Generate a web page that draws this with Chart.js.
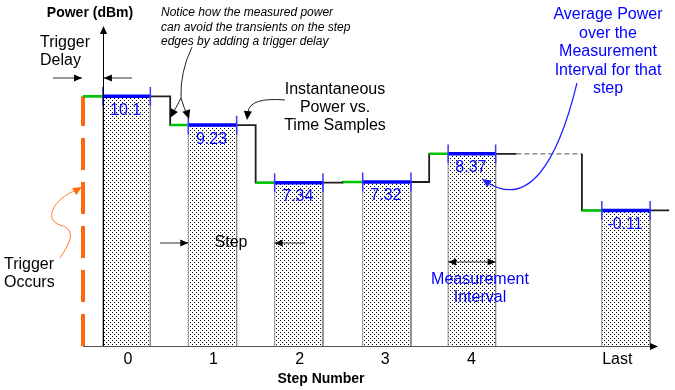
<!DOCTYPE html>
<html>
<head>
<meta charset="utf-8">
<script src="https://cdn.jsdelivr.net/npm/chart.js@4.4.0/dist/chart.umd.min.js"></script>
<style>
  body { margin: 0; background: #fff; }
  canvas { display: block; }
</style>
</head>
<body>
<canvas id="stepChart" width="675" height="390"></canvas>
<script>
// Steps and the average power measured over each interval (dBm)
const stepLabels = ['0', '1', '2', '3', '4', 'Last'];
const avgPower = ['10.1', '9.23', '7.34', '7.32', '8.37', '-0.11'];

// Time axis in arbitrary units (about 10 per step)
const stepStart = [0, 10.1, 20, 30.1, 40.1, 57.8];
const stepEnd = [10.1, 20, 30.1, 40.1, 50.2, 67.9];
const measStart = [2.3, 12.2, 22.2, 32.4, 42.3, 60.1];
const measEnd = [7.8, 17.8, 27.8, 38.0, 47.8, 65.7];
const tickPos = [5.2, 15.1, 25.1, 35.0, 45.0, 61.9];

// Drawn height of each step (schematic, axis runs 0..100)
const stepLevel = [79.0, 69.9, 51.7, 51.9, 60.8, 42.9];

const font = "'Liberation Sans', Arial, sans-serif";
const canvas = document.getElementById('stepChart');
const mainCtx = canvas.getContext('2d');

// stipple fill of the measurement bars
function dotPattern() {
    const c = document.createElement('canvas');
    c.width = 4; c.height = 4;
    const g = c.getContext('2d');
    g.fillStyle = '#fff';
    g.fillRect(0, 0, 4, 4);
    g.fillStyle = '#000';
    g.fillRect(0, 0, 1, 1);
    g.fillRect(2, 2, 1, 1);
    return mainCtx.createPattern(c, 'repeat');
}
const pattern = dotPattern();

// bars (one closed outline each, filled down to 0)
const barSets = stepLabels.map((lab, i) => ({
    label: 'bar ' + lab,
    data: [
        { x: measStart[i], y: 0 }, { x: measStart[i], y: stepLevel[i] },
        { x: measEnd[i], y: stepLevel[i] }, { x: measEnd[i], y: 0 }
    ],
    borderColor: '#8a8a8a', borderWidth: 1,
    backgroundColor: pattern, fill: 'origin', order: 6
}));

// instantaneous power trace
const tracePts = [];
const greenPts = [];
const bluePts = [];
const tickPts = [];
const tickHalf = 3;
stepLabels.forEach((lab, i) => {
    if (i > 0 && stepStart[i] > stepEnd[i - 1]) {
        tracePts.push({ x: (stepStart[i] + stepEnd[i - 1]) / 2, y: null });
        tracePts.push({ x: stepStart[i], y: stepLevel[i - 1] });
    }
    tracePts.push({ x: stepStart[i], y: stepLevel[i] });
    tracePts.push({ x: stepEnd[i], y: stepLevel[i] });

    greenPts.push({ x: stepStart[i], y: stepLevel[i] }, { x: measStart[i], y: stepLevel[i] }, { x: measStart[i], y: null });
    bluePts.push({ x: measStart[i], y: stepLevel[i] }, { x: measEnd[i], y: stepLevel[i] }, { x: measEnd[i], y: null });
    [measStart[i], measEnd[i]].forEach(x => {
        tickPts.push({ x: x, y: stepLevel[i] - tickHalf }, { x: x, y: stepLevel[i] + tickHalf }, { x: x, y: null });
    });
});

const datasets = [
    ...barSets,
    {
        label: 'trigger',
        data: [{ x: 0, y: 0 }, { x: 0, y: stepLevel[0] }],
        borderColor: '#ff6a10', borderWidth: 4, borderDash: [32, 12], order: 5
    },
    { label: 'trace', data: tracePts, borderColor: '#1e1e1e', borderWidth: 1.8, order: 4 },
    {
        label: 'hold',
        data: [{ x: stepEnd[4], y: stepLevel[4] }, { x: stepStart[5], y: stepLevel[4] }],
        borderColor: '#555', borderWidth: 1, borderDash: [5, 3], order: 4
    },
    { label: 'settling', data: greenPts, borderColor: '#00c800', borderWidth: 2.5, order: 3 },
    { label: 'interval', data: bluePts, borderColor: '#0000ff', borderWidth: 3.5, order: 2 },
    { label: 'edges', data: tickPts, borderColor: '#3a3aff', borderWidth: 1.5, order: 1 }
];

function arrowHead(ctx, x, y, angle, size) {
    ctx.save();
    ctx.translate(x, y);
    ctx.rotate(angle);
    ctx.beginPath();
    ctx.moveTo(0, 0);
    ctx.lineTo(-size, -size * 0.45);
    ctx.lineTo(-size, size * 0.45);
    ctx.closePath();
    ctx.fill();
    ctx.restore();
}

function arrowLine(ctx, x1, y1, x2, y2) {
    ctx.beginPath();
    ctx.moveTo(x1, y1);
    ctx.lineTo(x2, y2);
    ctx.stroke();
    arrowHead(ctx, x2, y2, Math.atan2(y2 - y1, x2 - x1), 8);
}

function lines(ctx, arr, x, y0, dy) {
    arr.forEach((t, i) => ctx.fillText(t, x, y0 + i * dy));
}

const annotations = {
    id: 'annotations',
    afterDraw(chart) {
        const ctx = chart.ctx;
        const xs = chart.scales.x;
        const ys = chart.scales.y;
        const base = ys.getPixelForValue(0);
        const yAxisX = xs.getPixelForValue(measStart[0]);
        ctx.save();

        // axes
        ctx.strokeStyle = '#000';
        ctx.fillStyle = '#000';
        ctx.lineWidth = 1;
        ctx.beginPath();
        ctx.moveTo(Math.round(yAxisX) + 0.5, base);
        ctx.lineTo(Math.round(yAxisX) + 0.5, 33);
        ctx.stroke();
        arrowHead(ctx, Math.round(yAxisX) + 0.5, 26, -Math.PI / 2, 8);
        ctx.strokeStyle = '#555';
        ctx.beginPath();
        ctx.moveTo(xs.getPixelForValue(0), base + 0.5);
        ctx.lineTo(651, base + 0.5);
        ctx.stroke();
        arrowHead(ctx, 658, base + 0.5, 0, 8);

        // value labels
        ctx.fillStyle = '#0000ff';
        ctx.font = '16px ' + font;
        ctx.textAlign = 'center';
        ctx.textBaseline = 'middle';
        avgPower.forEach((v, i) => {
            const cx = xs.getPixelForValue((measStart[i] + measEnd[i]) / 2);
            ctx.fillText(v, cx - 1, ys.getPixelForValue(stepLevel[i]) + 14);
        });

        // black texts
        ctx.fillStyle = '#000';
        ctx.font = 'bold 14px ' + font;
        ctx.fillText('Power (dBm)', 90, 13);
        ctx.fillText('Step Number', 321, 379);
        ctx.font = '16px ' + font;
        lines(ctx, ['Instantaneous', 'Power vs.', 'Time Samples'], 335, 90, 18);
        ctx.fillText('Step', 231, 243);
        ctx.textAlign = 'left';
        lines(ctx, ['Trigger', 'Delay'], 40, 43, 18);
        lines(ctx, ['Trigger', 'Occurs'], 4, 265, 18);
        ctx.font = 'italic 12px ' + font;
        lines(ctx, ['Notice how the measured power', 'can avoid the transients on the step', 'edges by adding a trigger delay'], 161, 13, 14.5);

        // blue texts
        ctx.fillStyle = '#0000ff';
        ctx.textAlign = 'center';
        ctx.font = '16px ' + font;
        lines(ctx, ['Average Power', 'over the', 'Measurement', 'Interval for that', 'step'], 608, 15, 18.5);
        lines(ctx, ['Measurement', 'Interval'], 480, 280, 18);

        // straight arrows
        ctx.strokeStyle = '#333';
        ctx.fillStyle = '#000';
        ctx.lineWidth = 1;
        const trig = xs.getPixelForValue(0);
        arrowLine(ctx, 53, 78, trig - 1, 78);
        arrowLine(ctx, 132, 78, yAxisX + 1, 78);
        arrowLine(ctx, 160, 243, xs.getPixelForValue(measStart[1]), 243);
        arrowLine(ctx, 305, 243, xs.getPixelForValue(measStart[2]), 243);
        const m0 = xs.getPixelForValue(measStart[4]);
        const m1 = xs.getPixelForValue(measEnd[4]);
        arrowLine(ctx, (m0 + m1) / 2, 262, m1, 262);
        arrowLine(ctx, (m0 + m1) / 2, 262, m0, 262);

        // curved black arrows
        ctx.strokeStyle = '#222';
        ctx.beginPath();
        ctx.moveTo(192, 47);
        ctx.quadraticCurveTo(180, 72, 181, 98);
        ctx.quadraticCurveTo(176, 108, 171, 116);
        ctx.moveTo(181, 98);
        ctx.quadraticCurveTo(184, 108, 188, 117);
        ctx.stroke();
        arrowHead(ctx, 170, 118, Math.atan2(18, -10), 9);
        arrowHead(ctx, 189, 119, Math.atan2(19, 6), 9);
        ctx.beginPath();
        ctx.moveTo(285, 100);
        ctx.quadraticCurveTo(250, 97, 248, 112);
        ctx.stroke();
        arrowHead(ctx, 247, 120, Math.PI / 2 + 0.1, 9);

        // blue curved arrow
        ctx.strokeStyle = '#2020ff';
        ctx.fillStyle = '#2020ff';
        ctx.lineWidth = 1.2;
        ctx.beginPath();
        ctx.moveTo(577, 83);
        ctx.bezierCurveTo(557, 165, 528, 207, 488, 183);
        ctx.stroke();
        arrowHead(ctx, 482, 179, Math.atan2(-26, -40), 9);

        // orange curved arrow
        ctx.strokeStyle = '#ff7a2a';
        ctx.fillStyle = '#ff6a10';
        ctx.lineWidth = 1;
        ctx.beginPath();
        ctx.moveTo(60, 258);
        ctx.bezierCurveTo(66, 248, 80, 230, 60, 225);
        ctx.bezierCurveTo(44, 220, 52, 200, 76, 190);
        ctx.stroke();
        arrowHead(ctx, 82, 187, Math.atan2(-8, 14), 9);

        ctx.restore();
    }
};

new Chart(mainCtx, {
    type: 'line',
    data: { datasets: datasets },
    options: {
        responsive: false,
        animation: false,
        layout: { padding: { left: 83, right: 5, top: 30, bottom: 0 } },
        elements: {
            point: { radius: 0 },
            line: { tension: 0, capBezierPoints: false }
        },
        datasets: { line: { spanGaps: false, clip: false, fill: false } },
        plugins: { legend: { display: false }, tooltip: { enabled: false } },
        scales: {
            x: {
                type: 'linear', min: 0, max: 68,
                afterFit: s => { s.height = 44; },
                afterBuildTicks: s => { s.ticks = tickPos.map(v => ({ value: v })); },
                grid: { display: false, drawTicks: false },
                border: { display: false },
                ticks: {
                    autoSkip: false, maxRotation: 0, padding: 4, color: '#000',
                    font: { family: font, size: 16 },
                    callback: (v, i) => stepLabels[i]
                }
            },
            y: { type: 'linear', min: 0, max: 100, display: false }
        }
    },
    plugins: [annotations]
});
</script>
</body>
</html>
